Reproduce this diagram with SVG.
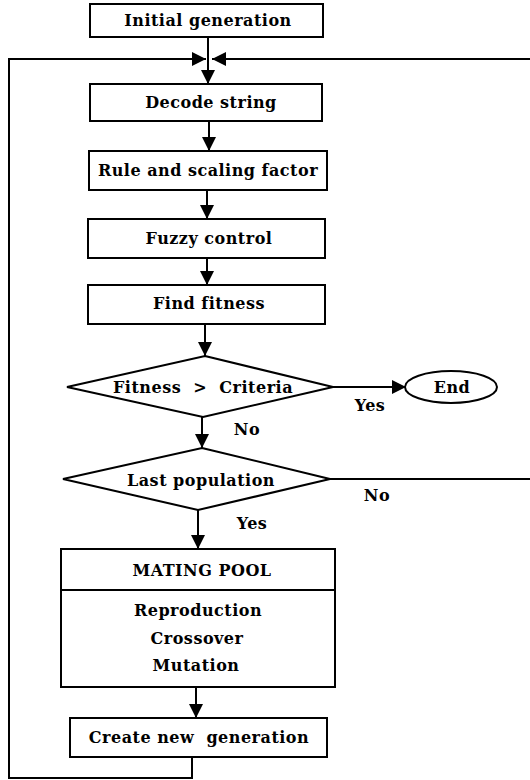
<svg xmlns="http://www.w3.org/2000/svg" width="530" height="780" viewBox="0 0 530 780">
<style>
.box{fill:#fff;stroke:#000;stroke-width:2}
.ln{fill:none;stroke:#000;stroke-width:2}
text{font-family:"DejaVu Serif","Liberation Serif",serif;font-weight:bold;font-size:16px;letter-spacing:0.5px;text-anchor:middle;fill:#000}
</style>
<defs>
<marker id="ah" markerUnits="userSpaceOnUse" markerWidth="14" markerHeight="14" refX="14" refY="7" orient="auto">
<path d="M0,0 L14,7 L0,14 z" fill="#000"/>
</marker>
</defs>
<g id="connectors">
<path class="ln" d="M208,37 L208,84" marker-end="url(#ah)"/>
<path class="ln" d="M192,757 L192,778 L9,778 L9,59 L206,59" marker-end="url(#ah)"/>
<path class="ln" d="M530,59 L212,59" marker-end="url(#ah)"/>
<path class="ln" d="M209,121 L209,151" marker-end="url(#ah)"/>
<path class="ln" d="M207,190 L207,219" marker-end="url(#ah)"/>
<path class="ln" d="M207,258 L207,285" marker-end="url(#ah)"/>
<path class="ln" d="M205,324 L205,356" marker-end="url(#ah)"/>
<path class="ln" d="M333,387 L406,387" marker-end="url(#ah)"/>
<path class="ln" d="M202,417 L202,448" marker-end="url(#ah)"/>
<path class="ln" d="M330,479 L530,479"/>
<path class="ln" d="M198,510 L198,549" marker-end="url(#ah)"/>
<path class="ln" d="M196,687 L196,718" marker-end="url(#ah)"/>
<text x="370" y="411">Yes</text>
<text x="247" y="435">No</text>
<text x="377" y="501">No</text>
<text x="252" y="529">Yes</text>
</g>
<g id="initial">
<rect class="box" x="90" y="4" width="233" height="33"/>
<text x="208" y="26">Initial generation</text>
</g>
<g id="decode">
<rect class="box" x="90" y="84" width="232" height="37"/>
<text x="211" y="108">Decode string</text>
</g>
<g id="rule">
<rect class="box" x="89" y="151" width="238" height="39"/>
<text x="208" y="176">Rule and scaling factor</text>
</g>
<g id="fuzzy">
<rect class="box" x="88" y="219" width="237" height="39"/>
<text x="209" y="244">Fuzzy control</text>
</g>
<g id="fitness">
<rect class="box" x="88" y="285" width="237" height="39"/>
<text x="209" y="309">Find fitness</text>
</g>
<g id="criteria">
<polygon class="box" points="205,356 333,387 203,417 67,387"/>
<text x="203" y="393" xml:space="preserve">Fitness  &gt;  Criteria</text>
</g>
<g id="end">
<ellipse class="box" cx="451" cy="387" rx="46" ry="16"/>
<text x="452" y="393">End</text>
</g>
<g id="lastpop">
<polygon class="box" points="202,448 330,479 198,510 63,479"/>
<text x="201" y="486">Last population</text>
</g>
<g id="mating">
<rect class="box" x="61" y="549" width="274" height="138"/>
<line class="ln" x1="61" y1="590" x2="335" y2="590"/>
<text x="202" y="576">MATING POOL</text>
<text x="198" y="616">Reproduction</text>
<text x="197" y="644">Crossover</text>
<text x="196" y="671">Mutation</text>
</g>
<g id="create">
<rect class="box" x="70" y="718" width="257" height="39"/>
<text x="199" y="743" xml:space="preserve">Create new  generation</text>
</g>
</svg>
